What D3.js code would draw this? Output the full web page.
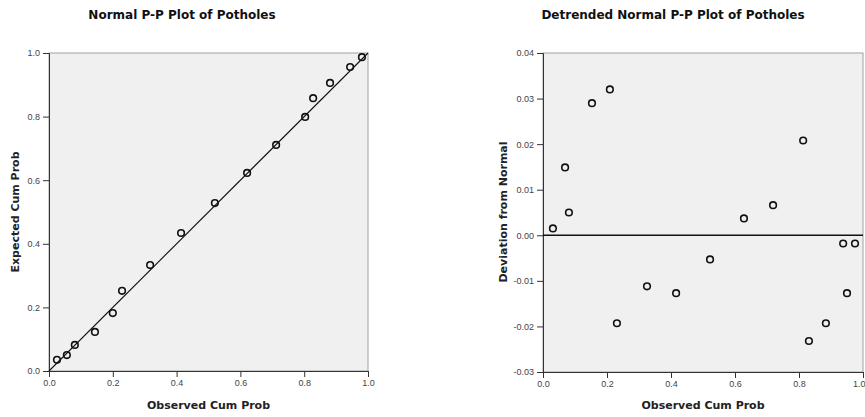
<!DOCTYPE html>
<html>
<head>
<meta charset="utf-8">
<script src="https://cdn.jsdelivr.net/npm/d3@7"></script>
<style>
    body { margin: 0; background: #fff; }
    svg { display: block; font-family: "Liberation Sans", Arial, sans-serif; }
    .chart-title { font-family: "DejaVu Sans", sans-serif; font-size: 12px; font-weight: bold; fill: #111; }
    .axis-label { font-family: "DejaVu Sans", sans-serif; font-size: 11px; font-weight: bold; fill: #222; }
    .tick text { font-size: 9px; fill: #444; }
</style>
</head>
<body>
<div id="chart"></div>
<script>
// Normal P-P plot: observed vs expected cumulative probability
const ppObserved = [0.025, 0.056, 0.081, 0.144, 0.200, 0.229, 0.317, 0.414, 0.520, 0.621, 0.712, 0.803, 0.828, 0.881, 0.944, 0.981];
const ppExpected = [0.035, 0.050, 0.082, 0.123, 0.182, 0.252, 0.333, 0.434, 0.528, 0.623, 0.711, 0.799, 0.858, 0.906, 0.956, 0.987];

// Detrended plot: observed vs deviation from normal
const dtObserved = [0.031, 0.081, 0.069, 0.153, 0.209, 0.231, 0.325, 0.416, 0.522, 0.628, 0.719, 0.813, 0.831, 0.884, 0.938, 0.950, 0.975];
const dtDeviation = [0.0015, 0.005, 0.0149, 0.029, 0.032, -0.0193, -0.0112, -0.0127, -0.0053, 0.0037, 0.0066, 0.0208, -0.0232, -0.0193, -0.0018, -0.0127, -0.0018];

const ppTicks = [0.0, 0.2, 0.4, 0.6, 0.8, 1.0];
const dtYTicks = [-0.03, -0.02, -0.01, 0.00, 0.01, 0.02, 0.03, 0.04];

const svg = d3.select('#chart').append('svg')
    .attr('width', 865)
    .attr('height', 417);

function drawPanel(box, xScale, yScale, xTicks, yTicks, xFormat, yFormat) {
    const panel = svg.append('g');

    panel.append('rect')
        .attr('x', box.left)
        .attr('y', box.top)
        .attr('width', box.right - box.left)
        .attr('height', box.bottom - box.top)
        .attr('fill', '#f0f0f0')
        .attr('stroke', '#a0a0a0')
        .attr('stroke-width', 1);

    panel.append('g')
        .attr('class', 'x-axis')
        .attr('transform', `translate(0,${box.bottom})`)
        .call(d3.axisBottom(xScale).tickValues(xTicks).tickSize(6).tickPadding(3).tickFormat(xFormat))
        .call((group) => group.select('.domain').attr('stroke', '#333'))
        .call((group) => group.selectAll('line').attr('stroke', '#333'));

    panel.append('g')
        .attr('transform', `translate(${box.left},0)`)
        .call(d3.axisLeft(yScale).tickValues(yTicks).tickSize(6).tickPadding(3).tickFormat(yFormat))
        .call((group) => group.select('.domain').attr('stroke', '#333'))
        .call((group) => group.selectAll('line').attr('stroke', '#333'));

    return panel;
}

function drawPoints(panel, xs, ys, xScale, yScale) {
    panel.selectAll('.pt')
        .data(xs.map((x, i) => ({ x, y: ys[i] })))
        .enter()
        .append('circle')
        .attr('class', 'pt')
        .attr('cx', (d) => xScale(d.x))
        .attr('cy', (d) => yScale(d.y))
        .attr('r', 3.3)
        .attr('fill', 'none')
        .attr('stroke', '#111')
        .attr('stroke-width', 1.6);
}

// left panel
const leftBox = { left: 49, right: 368, top: 53, bottom: 371 };
const leftX = d3.scaleLinear().domain([0, 1]).range([leftBox.left, leftBox.right]);
const leftY = d3.scaleLinear().domain([0, 1]).range([leftBox.bottom, leftBox.top]);
const leftPanel = drawPanel(leftBox, leftX, leftY, ppTicks, ppTicks, d3.format('.1f'), d3.format('.1f'));

leftPanel.append('line')
    .attr('x1', leftX(0)).attr('y1', leftY(0))
    .attr('x2', leftX(1)).attr('y2', leftY(1))
    .attr('stroke', '#111')
    .attr('stroke-width', 1.1);

drawPoints(leftPanel, ppObserved, ppExpected, leftX, leftY);

svg.append('text')
    .attr('class', 'chart-title')
    .attr('x', 182).attr('y', 19)
    .attr('text-anchor', 'middle')
    .text('Normal P-P Plot of Potholes');

svg.append('text')
    .attr('class', 'axis-label')
    .attr('x', (leftBox.left + leftBox.right) / 2).attr('y', 409)
    .attr('text-anchor', 'middle')
    .text('Observed Cum Prob');

svg.append('text')
    .attr('class', 'axis-label')
    .attr('transform', 'rotate(-90)')
    .attr('x', -212).attr('y', 19)
    .attr('text-anchor', 'middle')
    .text('Expected Cum Prob');

// right panel
const rightBox = { left: 543, right: 863, top: 53, bottom: 372 };
const rightX = d3.scaleLinear().domain([0, 1]).range([rightBox.left, rightBox.right]);
const rightY = d3.scaleLinear().domain([-0.03, 0.04]).range([rightBox.bottom, rightBox.top]);
const rightPanel = drawPanel(rightBox, rightX, rightY, ppTicks, dtYTicks, d3.format('.1f'), (d) => d.toFixed(2));

// keep the last x label inside the picture
rightPanel.select('.x-axis').selectAll('.tick text')
    .filter((d) => d === 1)
    .attr('text-anchor', 'end')
    .attr('dx', 2);

rightPanel.append('line')
    .attr('x1', rightX(0)).attr('y1', rightY(0))
    .attr('x2', rightX(1)).attr('y2', rightY(0))
    .attr('stroke', '#111')
    .attr('stroke-width', 1.5);

drawPoints(rightPanel, dtObserved, dtDeviation, rightX, rightY);

svg.append('text')
    .attr('class', 'chart-title')
    .attr('x', 673).attr('y', 19)
    .attr('text-anchor', 'middle')
    .text('Detrended Normal P-P Plot of Potholes');

svg.append('text')
    .attr('class', 'axis-label')
    .attr('x', (rightBox.left + rightBox.right) / 2).attr('y', 409)
    .attr('text-anchor', 'middle')
    .text('Observed Cum Prob');

svg.append('text')
    .attr('class', 'axis-label')
    .attr('transform', 'rotate(-90)')
    .attr('x', -212).attr('y', 507)
    .attr('text-anchor', 'middle')
    .text('Deviation from Normal');
</script>
</body>
</html>
